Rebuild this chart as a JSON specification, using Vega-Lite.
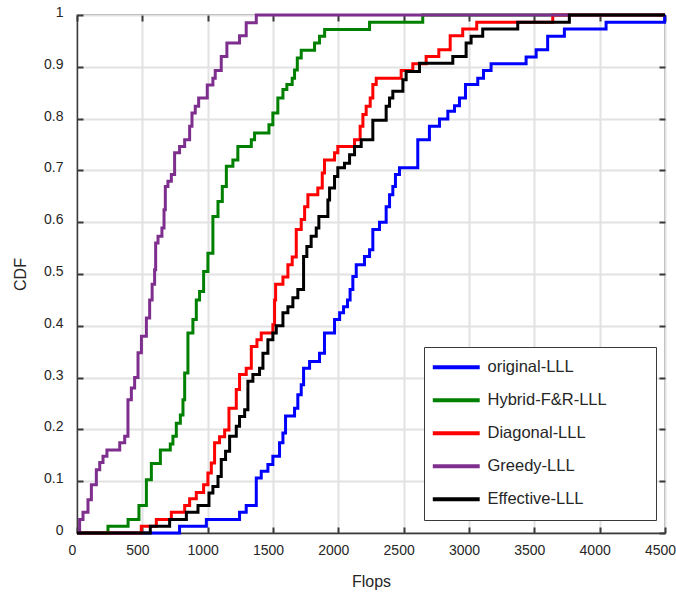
{
  "$schema": "https://vega.github.io/schema/vega-lite/v6.json",
  "width": 588,
  "height": 518,
  "autosize": {"type": "none"},
  "padding": {"left": 77, "top": 15, "right": 11, "bottom": 60},
  "background": "white",
  "config": {
    "font": "Liberation Sans",
    "view": {"stroke": "#3a3a3a", "strokeWidth": 1.3},
    "axis": {
      "labelFont": "Liberation Sans",
      "titleFont": "Liberation Sans",
      "labelFontSize": 14,
      "labelColor": "#262626",
      "titleColor": "#262626",
      "titleFontSize": 16,
      "titleFontWeight": "normal",
      "domainColor": "#3a3a3a",
      "domainWidth": 1.3
    }
  },
  "data": {
    "values": [
      {"s":"original-LLL","x":0,"y":0},{"s":"original-LLL","x":785,"y":0.013},{"s":"original-LLL","x":990,"y":0.026},{"s":"original-LLL","x":1244,"y":0.04},{"s":"original-LLL","x":1295,"y":0.053},{"s":"original-LLL","x":1372,"y":0.106},{"s":"original-LLL","x":1410,"y":0.119},{"s":"original-LLL","x":1461,"y":0.132},{"s":"original-LLL","x":1499,"y":0.148},{"s":"original-LLL","x":1550,"y":0.174},{"s":"original-LLL","x":1576,"y":0.193},{"s":"original-LLL","x":1596,"y":0.226},{"s":"original-LLL","x":1665,"y":0.241},{"s":"original-LLL","x":1690,"y":0.267},{"s":"original-LLL","x":1716,"y":0.286},{"s":"original-LLL","x":1734,"y":0.318},{"s":"original-LLL","x":1780,"y":0.331},{"s":"original-LLL","x":1856,"y":0.347},{"s":"original-LLL","x":1894,"y":0.386},{"s":"original-LLL","x":1971,"y":0.412},{"s":"original-LLL","x":2010,"y":0.425},{"s":"original-LLL","x":2040,"y":0.437},{"s":"original-LLL","x":2070,"y":0.45},{"s":"original-LLL","x":2090,"y":0.47},{"s":"original-LLL","x":2111,"y":0.495},{"s":"original-LLL","x":2137,"y":0.518},{"s":"original-LLL","x":2200,"y":0.534},{"s":"original-LLL","x":2239,"y":0.547},{"s":"original-LLL","x":2264,"y":0.586},{"s":"original-LLL","x":2315,"y":0.6},{"s":"original-LLL","x":2366,"y":0.63},{"s":"original-LLL","x":2392,"y":0.653},{"s":"original-LLL","x":2417,"y":0.669},{"s":"original-LLL","x":2437,"y":0.692},{"s":"original-LLL","x":2468,"y":0.705},{"s":"original-LLL","x":2608,"y":0.759},{"s":"original-LLL","x":2697,"y":0.785},{"s":"original-LLL","x":2774,"y":0.799},{"s":"original-LLL","x":2838,"y":0.814},{"s":"original-LLL","x":2889,"y":0.825},{"s":"original-LLL","x":2927,"y":0.84},{"s":"original-LLL","x":2973,"y":0.866},{"s":"original-LLL","x":3067,"y":0.878},{"s":"original-LLL","x":3111,"y":0.893},{"s":"original-LLL","x":3169,"y":0.906},{"s":"original-LLL","x":3437,"y":0.919},{"s":"original-LLL","x":3514,"y":0.933},{"s":"original-LLL","x":3602,"y":0.959},{"s":"original-LLL","x":3730,"y":0.973},{"s":"original-LLL","x":4049,"y":0.986},{"s":"original-LLL","x":4497,"y":1.0},{"s":"original-LLL","x":4500,"y":1.0},
      {"s":"Hybrid-F&R-LLL","x":0,"y":0},{"s":"Hybrid-F&R-LLL","x":237,"y":0.013},{"s":"Hybrid-F&R-LLL","x":391,"y":0.026},{"s":"Hybrid-F&R-LLL","x":474,"y":0.053},{"s":"Hybrid-F&R-LLL","x":531,"y":0.103},{"s":"Hybrid-F&R-LLL","x":569,"y":0.134},{"s":"Hybrid-F&R-LLL","x":638,"y":0.16},{"s":"Hybrid-F&R-LLL","x":714,"y":0.172},{"s":"Hybrid-F&R-LLL","x":734,"y":0.187},{"s":"Hybrid-F&R-LLL","x":760,"y":0.212},{"s":"Hybrid-F&R-LLL","x":791,"y":0.228},{"s":"Hybrid-F&R-LLL","x":811,"y":0.257},{"s":"Hybrid-F&R-LLL","x":824,"y":0.309},{"s":"Hybrid-F&R-LLL","x":849,"y":0.386},{"s":"Hybrid-F&R-LLL","x":887,"y":0.412},{"s":"Hybrid-F&R-LLL","x":913,"y":0.45},{"s":"Hybrid-F&R-LLL","x":938,"y":0.466},{"s":"Hybrid-F&R-LLL","x":969,"y":0.505},{"s":"Hybrid-F&R-LLL","x":1002,"y":0.54},{"s":"Hybrid-F&R-LLL","x":1040,"y":0.611},{"s":"Hybrid-F&R-LLL","x":1079,"y":0.64},{"s":"Hybrid-F&R-LLL","x":1112,"y":0.669},{"s":"Hybrid-F&R-LLL","x":1143,"y":0.708},{"s":"Hybrid-F&R-LLL","x":1193,"y":0.72},{"s":"Hybrid-F&R-LLL","x":1231,"y":0.746},{"s":"Hybrid-F&R-LLL","x":1334,"y":0.759},{"s":"Hybrid-F&R-LLL","x":1359,"y":0.772},{"s":"Hybrid-F&R-LLL","x":1469,"y":0.788},{"s":"Hybrid-F&R-LLL","x":1499,"y":0.811},{"s":"Hybrid-F&R-LLL","x":1537,"y":0.84},{"s":"Hybrid-F&R-LLL","x":1576,"y":0.856},{"s":"Hybrid-F&R-LLL","x":1606,"y":0.866},{"s":"Hybrid-F&R-LLL","x":1647,"y":0.878},{"s":"Hybrid-F&R-LLL","x":1665,"y":0.894},{"s":"Hybrid-F&R-LLL","x":1686,"y":0.917},{"s":"Hybrid-F&R-LLL","x":1716,"y":0.932},{"s":"Hybrid-F&R-LLL","x":1818,"y":0.946},{"s":"Hybrid-F&R-LLL","x":1856,"y":0.959},{"s":"Hybrid-F&R-LLL","x":1895,"y":0.972},{"s":"Hybrid-F&R-LLL","x":2239,"y":0.986},{"s":"Hybrid-F&R-LLL","x":2646,"y":1.0},{"s":"Hybrid-F&R-LLL","x":4500,"y":1.0},
      {"s":"Diagonal-LLL","x":0,"y":0},{"s":"Diagonal-LLL","x":492,"y":0.013},{"s":"Diagonal-LLL","x":607,"y":0.026},{"s":"Diagonal-LLL","x":722,"y":0.04},{"s":"Diagonal-LLL","x":824,"y":0.053},{"s":"Diagonal-LLL","x":862,"y":0.066},{"s":"Diagonal-LLL","x":913,"y":0.078},{"s":"Diagonal-LLL","x":969,"y":0.093},{"s":"Diagonal-LLL","x":1002,"y":0.116},{"s":"Diagonal-LLL","x":1028,"y":0.135},{"s":"Diagonal-LLL","x":1053,"y":0.174},{"s":"Diagonal-LLL","x":1091,"y":0.186},{"s":"Diagonal-LLL","x":1130,"y":0.199},{"s":"Diagonal-LLL","x":1163,"y":0.241},{"s":"Diagonal-LLL","x":1219,"y":0.277},{"s":"Diagonal-LLL","x":1244,"y":0.306},{"s":"Diagonal-LLL","x":1295,"y":0.318},{"s":"Diagonal-LLL","x":1334,"y":0.36},{"s":"Diagonal-LLL","x":1377,"y":0.373},{"s":"Diagonal-LLL","x":1410,"y":0.386},{"s":"Diagonal-LLL","x":1499,"y":0.402},{"s":"Diagonal-LLL","x":1512,"y":0.45},{"s":"Diagonal-LLL","x":1520,"y":0.48},{"s":"Diagonal-LLL","x":1576,"y":0.494},{"s":"Diagonal-LLL","x":1614,"y":0.518},{"s":"Diagonal-LLL","x":1647,"y":0.533},{"s":"Diagonal-LLL","x":1678,"y":0.586},{"s":"Diagonal-LLL","x":1716,"y":0.605},{"s":"Diagonal-LLL","x":1742,"y":0.63},{"s":"Diagonal-LLL","x":1767,"y":0.653},{"s":"Diagonal-LLL","x":1843,"y":0.666},{"s":"Diagonal-LLL","x":1877,"y":0.695},{"s":"Diagonal-LLL","x":1894,"y":0.72},{"s":"Diagonal-LLL","x":1971,"y":0.734},{"s":"Diagonal-LLL","x":1996,"y":0.746},{"s":"Diagonal-LLL","x":2124,"y":0.759},{"s":"Diagonal-LLL","x":2167,"y":0.785},{"s":"Diagonal-LLL","x":2188,"y":0.808},{"s":"Diagonal-LLL","x":2213,"y":0.824},{"s":"Diagonal-LLL","x":2244,"y":0.84},{"s":"Diagonal-LLL","x":2264,"y":0.866},{"s":"Diagonal-LLL","x":2290,"y":0.878},{"s":"Diagonal-LLL","x":2481,"y":0.893},{"s":"Diagonal-LLL","x":2570,"y":0.906},{"s":"Diagonal-LLL","x":2672,"y":0.92},{"s":"Diagonal-LLL","x":2769,"y":0.933},{"s":"Diagonal-LLL","x":2856,"y":0.96},{"s":"Diagonal-LLL","x":2952,"y":0.973},{"s":"Diagonal-LLL","x":3059,"y":0.986},{"s":"Diagonal-LLL","x":3641,"y":1.0},{"s":"Diagonal-LLL","x":4500,"y":1.0},
      {"s":"Greedy-LLL","x":0,"y":0},{"s":"Greedy-LLL","x":20,"y":0.026},{"s":"Greedy-LLL","x":46,"y":0.04},{"s":"Greedy-LLL","x":84,"y":0.064},{"s":"Greedy-LLL","x":110,"y":0.093},{"s":"Greedy-LLL","x":148,"y":0.122},{"s":"Greedy-LLL","x":174,"y":0.136},{"s":"Greedy-LLL","x":199,"y":0.148},{"s":"Greedy-LLL","x":229,"y":0.16},{"s":"Greedy-LLL","x":327,"y":0.174},{"s":"Greedy-LLL","x":365,"y":0.187},{"s":"Greedy-LLL","x":390,"y":0.257},{"s":"Greedy-LLL","x":416,"y":0.28},{"s":"Greedy-LLL","x":441,"y":0.3},{"s":"Greedy-LLL","x":467,"y":0.348},{"s":"Greedy-LLL","x":493,"y":0.38},{"s":"Greedy-LLL","x":531,"y":0.415},{"s":"Greedy-LLL","x":556,"y":0.45},{"s":"Greedy-LLL","x":575,"y":0.48},{"s":"Greedy-LLL","x":594,"y":0.508},{"s":"Greedy-LLL","x":602,"y":0.56},{"s":"Greedy-LLL","x":620,"y":0.573},{"s":"Greedy-LLL","x":650,"y":0.589},{"s":"Greedy-LLL","x":666,"y":0.624},{"s":"Greedy-LLL","x":676,"y":0.669},{"s":"Greedy-LLL","x":696,"y":0.679},{"s":"Greedy-LLL","x":722,"y":0.692},{"s":"Greedy-LLL","x":747,"y":0.734},{"s":"Greedy-LLL","x":785,"y":0.746},{"s":"Greedy-LLL","x":824,"y":0.759},{"s":"Greedy-LLL","x":862,"y":0.785},{"s":"Greedy-LLL","x":880,"y":0.811},{"s":"Greedy-LLL","x":905,"y":0.824},{"s":"Greedy-LLL","x":931,"y":0.84},{"s":"Greedy-LLL","x":997,"y":0.865},{"s":"Greedy-LLL","x":1040,"y":0.878},{"s":"Greedy-LLL","x":1058,"y":0.893},{"s":"Greedy-LLL","x":1104,"y":0.92},{"s":"Greedy-LLL","x":1147,"y":0.946},{"s":"Greedy-LLL","x":1244,"y":0.96},{"s":"Greedy-LLL","x":1295,"y":0.985},{"s":"Greedy-LLL","x":1372,"y":1.0},{"s":"Greedy-LLL","x":4500,"y":1.0},
      {"s":"Effective-LLL","x":0,"y":0},{"s":"Effective-LLL","x":561,"y":0.013},{"s":"Effective-LLL","x":709,"y":0.026},{"s":"Effective-LLL","x":837,"y":0.04},{"s":"Effective-LLL","x":926,"y":0.053},{"s":"Effective-LLL","x":1010,"y":0.077},{"s":"Effective-LLL","x":1040,"y":0.09},{"s":"Effective-LLL","x":1079,"y":0.109},{"s":"Effective-LLL","x":1104,"y":0.142},{"s":"Effective-LLL","x":1137,"y":0.158},{"s":"Effective-LLL","x":1168,"y":0.187},{"s":"Effective-LLL","x":1219,"y":0.206},{"s":"Effective-LLL","x":1244,"y":0.225},{"s":"Effective-LLL","x":1283,"y":0.238},{"s":"Effective-LLL","x":1308,"y":0.293},{"s":"Effective-LLL","x":1346,"y":0.306},{"s":"Effective-LLL","x":1397,"y":0.318},{"s":"Effective-LLL","x":1423,"y":0.347},{"s":"Effective-LLL","x":1461,"y":0.373},{"s":"Effective-LLL","x":1499,"y":0.386},{"s":"Effective-LLL","x":1525,"y":0.4},{"s":"Effective-LLL","x":1576,"y":0.425},{"s":"Effective-LLL","x":1614,"y":0.437},{"s":"Effective-LLL","x":1652,"y":0.454},{"s":"Effective-LLL","x":1690,"y":0.47},{"s":"Effective-LLL","x":1734,"y":0.534},{"s":"Effective-LLL","x":1759,"y":0.553},{"s":"Effective-LLL","x":1792,"y":0.573},{"s":"Effective-LLL","x":1831,"y":0.589},{"s":"Effective-LLL","x":1851,"y":0.611},{"s":"Effective-LLL","x":1920,"y":0.643},{"s":"Effective-LLL","x":1933,"y":0.666},{"s":"Effective-LLL","x":1971,"y":0.688},{"s":"Effective-LLL","x":1996,"y":0.705},{"s":"Effective-LLL","x":2047,"y":0.714},{"s":"Effective-LLL","x":2086,"y":0.73},{"s":"Effective-LLL","x":2124,"y":0.746},{"s":"Effective-LLL","x":2175,"y":0.759},{"s":"Effective-LLL","x":2264,"y":0.797},{"s":"Effective-LLL","x":2366,"y":0.824},{"s":"Effective-LLL","x":2392,"y":0.84},{"s":"Effective-LLL","x":2417,"y":0.853},{"s":"Effective-LLL","x":2494,"y":0.875},{"s":"Effective-LLL","x":2519,"y":0.891},{"s":"Effective-LLL","x":2621,"y":0.907},{"s":"Effective-LLL","x":2876,"y":0.92},{"s":"Effective-LLL","x":2978,"y":0.946},{"s":"Effective-LLL","x":3016,"y":0.959},{"s":"Effective-LLL","x":3105,"y":0.973},{"s":"Effective-LLL","x":3373,"y":0.986},{"s":"Effective-LLL","x":3768,"y":1.0},{"s":"Effective-LLL","x":4500,"y":1.0}
    ]
  },
  "layer": [
    {
      "mark": {"type": "line", "interpolate": "step-after", "strokeWidth": 3, "clip": false},
      "encoding": {
        "x": {"field": "x", "type": "quantitative", "title": "Flops",
              "scale": {"domain": [0, 4500], "nice": false, "zero": false},
              "axis": {"orient": "bottom", "grid": true, "gridColor": "#e2e2e2", "gridOpacity": 1, "gridWidth": 2, "gridDash": [],
                       "ticks": true, "tickColor": "#3a3a3a", "tickOpacity": 1, "tickWidth": 2, "tickSize": -6, "tickCount": 10,
                       "format": "d", "labelPadding": 16, "labelOffset": -5, "titlePadding": 16, "labelFlush": false, "labelOverlap": false}},
        "y": {"field": "y", "type": "quantitative", "title": "CDF",
              "scale": {"domain": [0, 1], "nice": false},
              "axis": {"orient": "left", "grid": true, "gridColor": "#e2e2e2", "gridOpacity": 1, "gridWidth": 2, "gridDash": [],
                       "ticks": true, "tickColor": "#3a3a3a", "tickOpacity": 1, "tickWidth": 2, "tickSize": -6, "tickCount": 10,
                       "format": "~g", "labelPadding": 20, "labelOffset": -2.5, "titlePadding": 15, "titleY": 259, "labelFlush": false, "labelOverlap": false}},
        "color": {"field": "s", "type": "nominal", "sort": null,
                  "scale": {"domain": ["original-LLL","Hybrid-F&R-LLL","Diagonal-LLL","Greedy-LLL","Effective-LLL"],
                            "range": ["#0000ff","#008000","#ff0000","#7e2f8e","#000000"]},
                  "legend": {"orient": "none", "legendX": 347, "legendY": 332, "title": null, "padding": 12,
                             "strokeColor": "#3a3a3a", "fillColor": "white", "rowPadding": 16,
                             "labelFontSize": 16.5, "labelColor": "#262626", "labelFont": "Liberation Sans",
                             "symbolType": "M-5,0H5", "symbolStrokeWidth": 4, "symbolSize": 88,
                             "symbolOffset": 12, "labelOffset": 23,
                             "labelExpr": "datum.label + '\u00a0\u00a0\u00a0\u00a0\u00a0\u00a0\u00a0\u00a0\u200b'", "labelLimit": 500}}
      }
    },
    {
      "mark": {"type": "line", "opacity": 0},
      "encoding": {
        "x": {"field": "x", "type": "quantitative",
              "axis": {"orient": "top", "ticks": true, "tickColor": "#3a3a3a", "tickOpacity": 1, "tickSize": -6, "tickWidth": 2, "tickCount": 10, "labels": false, "grid": false, "domain": false, "title": null}},
        "y": {"field": "y", "type": "quantitative",
              "axis": {"orient": "right", "ticks": true, "tickColor": "#3a3a3a", "tickOpacity": 1, "tickSize": -6, "tickWidth": 2, "tickCount": 10, "labels": false, "grid": false, "domain": false, "title": null}},
        "detail": {"field": "s"}
      }
    }
  ],
  "resolve": {"axis": {"x": "independent", "y": "independent"}}
}
